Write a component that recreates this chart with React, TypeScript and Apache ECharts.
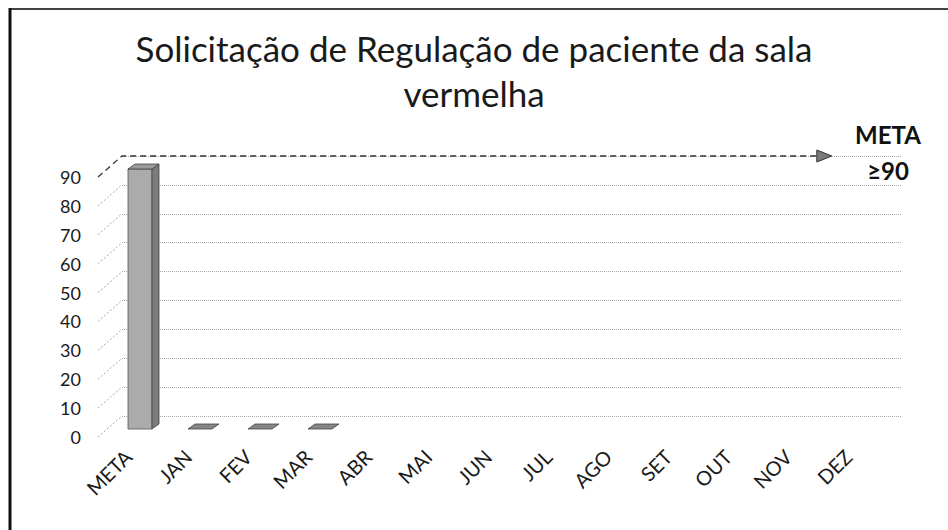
import React, { useEffect, useRef } from "react";
import * as echarts from "echarts";

const categories = ["META", "JAN", "FEV", "MAR", "ABR", "MAI", "JUN", "JUL", "AGO", "SET", "OUT", "NOV", "DEZ"];
const values: (number | null)[] = [90, 0, 0, 0, null, null, null, null, null, null, null, null, null];
const yTicks = [0, 10, 20, 30, 40, 50, 60, 70, 80];
const goalValue = 90;
const goalLabel = ["META", "≥90"];
const titleText = "Solicitação de Regulação de paciente da sala\nvermelha";

const FONT = "Lato, 'Open Sans', sans-serif";
const WALL_DX = 24;
const WALL_DY = -21;

export default function App() {
  const ref = useRef<HTMLDivElement>(null);
  useEffect(() => {
    document.body.style.margin = "0";
    const chart = echarts.init(ref.current!, null, { renderer: "svg" });
    const barData = values
      .map((v, i) => (v === null ? null : [i, v]))
      .filter((d) => d !== null) as number[][];

    const option: any = {
      animation: false,
      backgroundColor: "#ffffff",
      title: {
        text: titleText,
        left: "center",
        top: 20,
        textStyle: { fontFamily: FONT, fontSize: 35, fontWeight: "normal", color: "#1a1a1a", lineHeight: 45 },
      },
      grid: [
        { left: 98, right: 70, top: 177, bottom: 93 },
        { left: 122, right: 46, top: 156, bottom: 114 },
      ],
      xAxis: [
        {
          gridIndex: 0,
          type: "category",
          data: categories,
          axisLine: { show: false },
          axisTick: { show: false },
          axisLabel: { rotate: 45, margin: 16, fontFamily: FONT, fontSize: 20, color: "#1a1a1a", interval: 0 },
        },
        { gridIndex: 1, type: "category", data: categories, show: false },
      ],
      yAxis: [
        {
          gridIndex: 0,
          type: "value",
          min: 0,
          max: 90,
          interval: 10,
          axisLine: { show: false },
          axisTick: { show: false },
          splitLine: { show: false },
          axisLabel: { margin: 17, fontFamily: FONT, fontSize: 18, color: "#1a1a1a" },
        },
        {
          gridIndex: 1,
          type: "value",
          min: 0,
          max: 90,
          interval: 10,
          axisLine: { show: false },
          axisTick: { show: false },
          axisLabel: { show: false },
          splitLine: { show: true, lineStyle: { type: "dotted", color: "#a8a8a8", width: 1 } },
        },
      ],
      series: [
        {
          type: "custom",
          name: "ticks",
          xAxisIndex: 0,
          yAxisIndex: 0,
          silent: true,
          data: yTicks.map((t) => [0, t]),
          renderItem: (params: any, api: any) => {
            const p = api.coord([0, api.value(1)]);
            const band = api.size([1, 0])[0];
            const left = p[0] - band / 2;
            return {
              type: "line",
              shape: { x1: left, y1: p[1], x2: left + WALL_DX, y2: p[1] + WALL_DY },
              style: { stroke: "#a8a8a8", lineWidth: 1, lineDash: [2, 2] },
            };
          },
        },
        {
          type: "custom",
          name: "goal",
          xAxisIndex: 0,
          yAxisIndex: 0,
          silent: true,
          data: [[0, goalValue]],
          renderItem: (params: any, api: any) => {
            const p = api.coord([0, api.value(1)]);
            const band = api.size([1, 0])[0];
            const left = p[0] - band / 2;
            const yb = p[1] + WALL_DY;
            const tip = left + categories.length * band * 0.91 + WALL_DX;
            return {
              type: "group",
              children: [
                {
                  type: "polyline",
                  shape: { points: [[left, p[1]], [left + WALL_DX, yb], [tip - 12, yb]] },
                  style: { stroke: "#333", lineWidth: 1.3, lineDash: [6, 4], fill: null },
                },
                {
                  type: "polygon",
                  shape: { points: [[tip - 15, yb - 6], [tip, yb], [tip - 15, yb + 6]] },
                  style: { fill: "#7a7a7a", stroke: "#333", lineWidth: 1 },
                },
              ],
            };
          },
        },
        {
          type: "custom",
          name: "bars",
          xAxisIndex: 0,
          yAxisIndex: 0,
          data: barData,
          renderItem: (params: any, api: any) => {
            const i = api.value(0);
            const v = api.value(1);
            const base = api.coord([i, 0]);
            const top = api.coord([i, v]);
            const band = api.size([1, 0])[0];
            const w = band * 0.4;
            const ox = 12;
            const oy = -8;
            const dx = 7;
            const dy = -5;
            const x0 = base[0] - w / 2 + ox;
            const x1 = x0 + w;
            const yb = base[1] + oy;
            const yt = top[1] + oy;
            const children: any[] = [];
            if (yb - yt > 0.5) {
              children.push({
                type: "rect",
                shape: { x: x0, y: yt, width: w, height: yb - yt },
                style: { fill: "#ababab", stroke: "#555", lineWidth: 0.8 },
              });
              children.push({
                type: "polygon",
                shape: { points: [[x1, yb], [x1 + dx, yb + dy], [x1 + dx, yt + dy], [x1, yt]] },
                style: { fill: "#7c7c7c", stroke: "#444", lineWidth: 0.8 },
              });
              children.push({
                type: "polygon",
                shape: { points: [[x0, yt], [x0 + dx, yt + dy], [x1 + dx, yt + dy], [x1, yt]] },
                style: { fill: "#9a9a9a", stroke: "#444", lineWidth: 0.8 },
              });
            } else {
              children.push({
                type: "polygon",
                shape: { points: [[x0, yb], [x0 + dx, yb + dy], [x1 + dx, yb + dy], [x1, yb]] },
                style: { fill: "#858585", stroke: "#444", lineWidth: 0.8 },
              });
            }
            return { type: "group", children };
          },
        },
      ],
      graphic: [
        {
          type: "line",
          shape: { x1: 9, y1: 9, x2: 948, y2: 9 },
          style: { stroke: "#444", lineWidth: 2 },
          silent: true,
        },
        {
          type: "line",
          shape: { x1: 10, y1: 8, x2: 10, y2: 530 },
          style: { stroke: "#111", lineWidth: 3 },
          silent: true,
        },
        {
          type: "text",
          x: 888,
          y: 134,
          style: { text: goalLabel[0], align: "center", verticalAlign: "middle", font: "bold 24px " + FONT, fill: "#111" },
        },
        {
          type: "text",
          x: 888,
          y: 170,
          style: { text: goalLabel[1], align: "center", verticalAlign: "middle", font: "bold 24px " + FONT, fill: "#111" },
        },
      ],
    };
    chart.setOption(option);
    return () => chart.dispose();
  }, []);
  return <div ref={ref} style={{ width: 948, height: 530 }} />;
}
